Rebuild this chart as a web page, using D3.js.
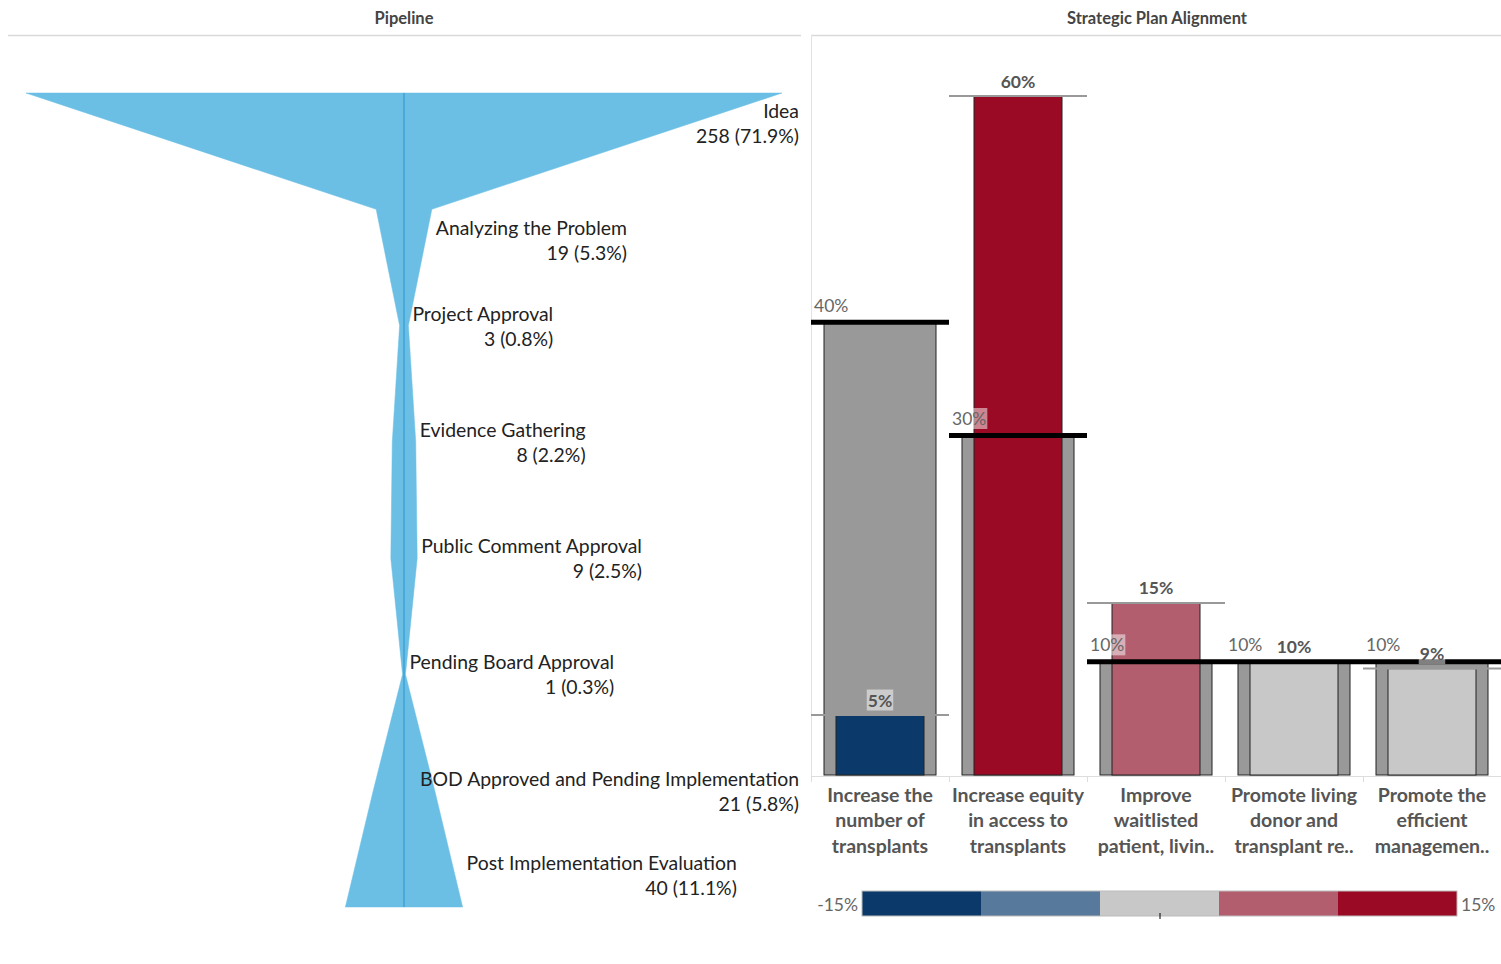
<!DOCTYPE html>
<html>
<head>
<meta charset="utf-8">
<script src="https://cdn.jsdelivr.net/npm/d3@7"></script>
<style>
body { margin:0; background:#fff; }
svg text { font-family: Lato, "Noto Sans", sans-serif; }
</style>
</head>
<body>
<div id="chart"></div>
<script>
(function(){

var width = 1501,
	height = 964;

// pipeline data
var stages = ["Idea","Analyzing the Problem","Project Approval","Evidence Gathering",
	"Public Comment Approval","Pending Board Approval","BOD Approved and Pending Implementation",
	"Post Implementation Evaluation"];
var stageCounts = [258,19,3,8,9,1,21,40];

// strategic plan data
var goals = ["Increase the number of transplants","Increase equity in access to transplants",
	"Improve waitlisted patient, living donor...","Promote living donor and transplant recipient...",
	"Promote the efficient management..."];
var goalLabels = [["Increase the","number of","transplants"],["Increase equity","in access to","transplants"],
	["Improve","waitlisted","patient, livin.."],["Promote living","donor and","transplant re.."],
	["Promote the","efficient","managemen.."]];
var targetPct = [0.40,0.30,0.10,0.10,0.10];
var actualPct = [0.053,0.60,0.152,0.10,0.094];

var palette = ["#0b3a6a","#56799c","#c8c8c8","#b35e6e","#9b0a24"];
var legendTicks = ["-15%","15%"];

// label nudges the way tableau moved them to avoid collisions
var labelNudge = [30,30.5,0,0,0,0,0,-32];

var svg = d3.select("#chart").append("svg")
	.attr("width",width)
	.attr("height",height);

// titles and panel lines
svg.append("text").attr("x",404).attr("y",18).attr("text-anchor","middle")
	.attr("dominant-baseline","central").style("font-size","16.5px").style("font-weight","bold")
	.style("fill","#444").text("Pipeline");
svg.append("text").attr("x",1157).attr("y",18).attr("text-anchor","middle")
	.attr("dominant-baseline","central").style("font-size","16.5px").style("font-weight","bold")
	.style("fill","#444").text("Strategic Plan Alignment");
svg.append("line").attr("x1",8).attr("x2",801).attr("y1",35.5).attr("y2",35.5)
	.style("stroke","#d9d9d9").style("stroke-width",1.5);
svg.append("line").attr("x1",811).attr("x2",1501).attr("y1",35.5).attr("y2",35.5)
	.style("stroke","#d9d9d9").style("stroke-width",1.5);
svg.append("line").attr("x1",811.5).attr("x2",811.5).attr("y1",35).attr("y2",776)
	.style("stroke","#e2e2e2").style("stroke-width",1);

// ---------- funnel ----------
var total = d3.sum(stageCounts);
var cx = 404;
var pipe = stages.map(function(s,i){ return {name:s, count:stageCounts[i], nudge:labelNudge[i]}; });

var Y = d3.scalePoint().domain(stages).range([93,907]);
var W = d3.scaleLinear().domain([0,d3.max(stageCounts)]).range([0,378]);

var area = d3.area()
	.y(function(d){ return Y(d.name); })
	.x0(function(d){ return cx - W(d.count); })
	.x1(function(d){ return cx + W(d.count); });

svg.append("path").datum(pipe).attr("d",area)
	.style("fill","#6bbfe5").style("stroke","#6bbfe5").style("stroke-width",0.5);
svg.append("line").attr("x1",cx).attr("x2",cx).attr("y1",Y(stages[0])).attr("y2",Y(stages[stages.length-1]))
	.style("stroke","#49a9da").style("stroke-width",2);

var pct = d3.format(".1%");
var lab = svg.selectAll(".stage").data(pipe).enter().append("g").attr("class","stage");
lab.each(function(d){
	var g = d3.select(this);
	var y = Y(d.name) + d.nudge;
	var t1 = g.append("text").attr("y",y-12.5).attr("dominant-baseline","central")
		.style("font-size","19.4px").style("fill","#222").attr("text-anchor","end").text(d.name);
	var t2 = g.append("text").attr("y",y+12.5).attr("dominant-baseline","central")
		.style("font-size","19.4px").style("fill","#222").attr("text-anchor","end")
		.text(d.count + " (" + pct(d.count/total) + ")");
	var w = Math.max(t1.node().getComputedTextLength(), t2.node().getComputedTextLength());
	var right = Math.min(cx + W(d.count) + 4 + w, 799);
	t1.attr("x",right); t2.attr("x",right);
});

// ---------- strategic plan bars ----------
var goalData = goals.map(function(g,i){
	return {goal:g, lines:goalLabels[i], target:targetPct[i], actual:actualPct[i]};
});

var X = d3.scaleBand().domain(goals).range([811,1501]).padding(0);
var V = d3.scaleLinear().domain([0,0.6]).range([775,96]);
var C = d3.scaleQuantize().domain([-0.15,0.15]).range(palette);
var outerW = 112, innerW = 88;

var col = svg.selectAll(".goal").data(goalData).enter().append("g").attr("class","goal");

col.append("rect")
	.attr("x",function(d){ return X(d.goal) + (X.bandwidth()-outerW)/2; })
	.attr("y",function(d){ return V(d.target); })
	.attr("width",outerW)
	.attr("height",function(d){ return V(0) - V(d.target); })
	.style("fill","#999").style("stroke","#222").style("stroke-width",1);

col.append("rect")
	.attr("x",function(d){ return X(d.goal) + (X.bandwidth()-innerW)/2; })
	.attr("y",function(d){ return V(d.actual); })
	.attr("width",innerW)
	.attr("height",function(d){ return V(0) - V(d.actual); })
	.style("fill",function(d){ return C(d.actual - d.target); })
	.style("stroke","#222").style("stroke-width",1);

col.append("line")
	.attr("x1",function(d){ return X(d.goal); })
	.attr("x2",function(d){ return X(d.goal) + X.bandwidth(); })
	.attr("y1",function(d){ return V(d.actual); })
	.attr("y2",function(d){ return V(d.actual); })
	.style("stroke","#999").style("stroke-width",2);

col.append("line")
	.attr("x1",function(d){ return X(d.goal); })
	.attr("x2",function(d){ return X(d.goal) + X.bandwidth(); })
	.attr("y1",function(d){ return V(d.target); })
	.attr("y2",function(d){ return V(d.target); })
	.style("stroke","#000").style("stroke-width",5);

var fmt = d3.format(".0%");

function boxedText(g, x, y, txt, anchor, bold){
	var r = g.append("rect").style("fill","#fff").style("fill-opacity",0.5);
	var t = g.append("text").attr("x",x).attr("y",y).attr("dominant-baseline","central")
		.attr("text-anchor",anchor).style("font-size","17.5px")
		.style("font-weight",bold ? "bold" : "normal")
		.style("fill",bold ? "#555" : "#666").text(txt);
	var b = t.node().getBBox();
	r.attr("x",b.x-1).attr("y",b.y).attr("width",b.width+2).attr("height",b.height);
}

col.each(function(d){
	var g = d3.select(this);
	boxedText(g, X(d.goal)+3, V(d.target)-17, fmt(d.target), "start", false);
	boxedText(g, X(d.goal)+X.bandwidth()/2, V(d.actual)-15, fmt(d.actual), "middle", true);
});

// x axis
svg.append("line").attr("x1",811).attr("x2",1501).attr("y1",776.5).attr("y2",776.5)
	.style("stroke","#ddd").style("stroke-width",1);
svg.selectAll(".xtick").data(goals).enter().append("line")
	.attr("x1",function(d){ return X(d) + 0.5; })
	.attr("x2",function(d){ return X(d) + 0.5; })
	.attr("y1",776).attr("y2",782)
	.style("stroke","#ddd");

col.each(function(d){
	var g = d3.select(this);
	d.lines.forEach(function(l,i){
		g.append("text").attr("x",X(d.goal)+X.bandwidth()/2).attr("y",794+i*25.5)
			.attr("dominant-baseline","central").attr("text-anchor","middle")
			.style("font-size","19.5px").style("font-weight","bold").style("fill","#555").text(l);
	});
});

// legend
var L = d3.scaleBand().domain(d3.range(palette.length)).range([862,1457]);
svg.selectAll(".leg").data(palette).enter().append("rect")
	.attr("x",function(d,i){ return L(i); })
	.attr("y",891).attr("width",L.bandwidth()).attr("height",25)
	.style("fill",function(d){ return d; });
svg.append("rect").attr("x",862).attr("y",891).attr("width",595).attr("height",25)
	.style("fill","none").style("stroke","#bbb").style("stroke-width",1);
svg.append("line").attr("x1",1160).attr("x2",1160).attr("y1",913).attr("y2",919)
	.style("stroke","#000").style("stroke-width",1);
svg.append("text").attr("x",858).attr("y",904).attr("text-anchor","end").attr("dominant-baseline","central")
	.style("font-size","17.5px").style("fill","#666").text(legendTicks[0]);
svg.append("text").attr("x",1461).attr("y",904).attr("text-anchor","start").attr("dominant-baseline","central")
	.style("font-size","17.5px").style("fill","#666").text(legendTicks[1]);

})()
</script>
</body>
</html>
